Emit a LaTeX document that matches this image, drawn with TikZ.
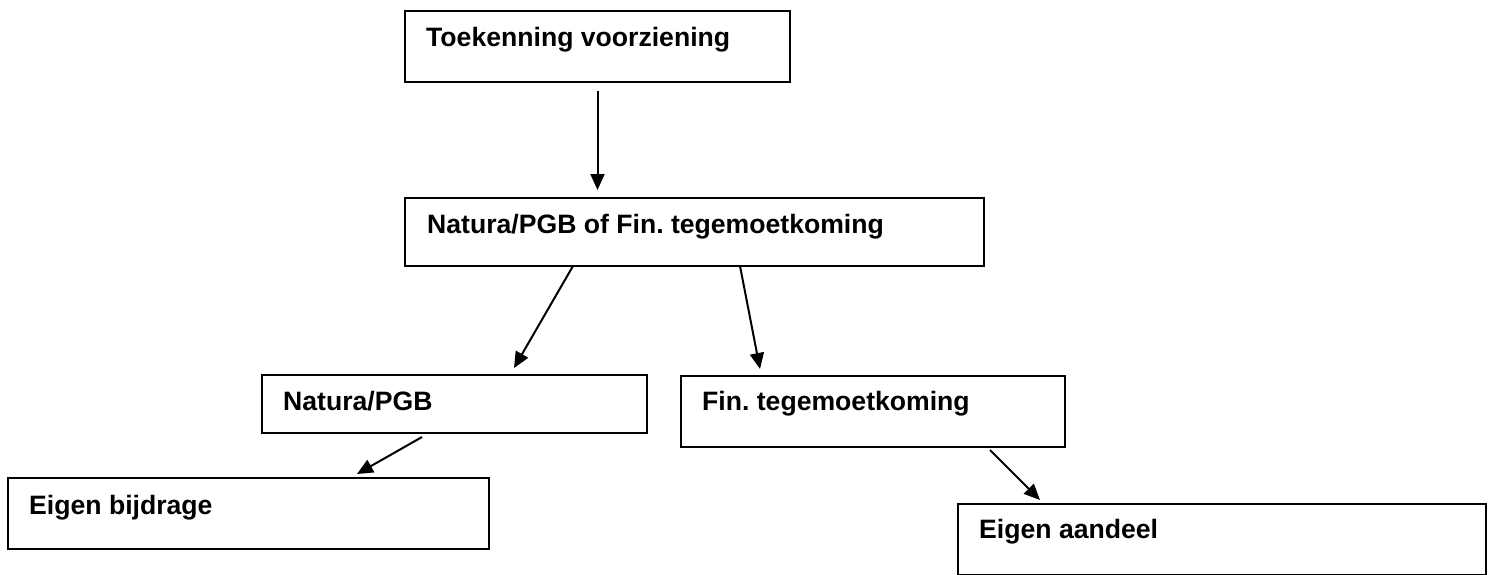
\documentclass[tikz,border=0pt]{standalone}
\usepackage{fontspec}
\setmainfont{Liberation Sans}
\usetikzlibrary{arrows.meta}
\frenchspacing
\begin{document}
\begin{tikzpicture}[x=1pt,y=-1pt,
  box/.style={draw,line width=2.4pt,anchor=north west,inner sep=0pt},
  lbl/.style={anchor=base west,inner sep=0pt,font=\fontsize{26.6}{30}\selectfont\bfseries},
  arr/.style={line width=2pt,-{Triangle[length=16pt,width=14pt]}}]
\useasboundingbox (0,0) rectangle (1495,575);
% boxes
\node[box,minimum width=385pt,minimum height=71pt] (b1) at (404,10) {};
\node[box,minimum width=579pt,minimum height=68pt] (b2) at (404,197) {};
\node[box,minimum width=385pt,minimum height=58pt] (b3) at (261,374) {};
\node[box,minimum width=384pt,minimum height=71pt] (b4) at (680,375) {};
\node[box,minimum width=481pt,minimum height=71pt] (b5) at (7,477) {};
\node[box,minimum width=528pt,minimum height=71pt] (b6) at (957,503) {};
% labels
\node[lbl] (t1) at ([shift={(22,37)}]b1.north west) {Toekenning voorziening};
\node[lbl] (t2) at ([shift={(23,36)}]b2.north west) {Natura/PGB of Fin. tegemoetkoming};
\node[lbl] (t3) at ([shift={(22,36)}]b3.north west) {Natura/PGB};
\node[lbl] (t4) at ([shift={(22,35)}]b4.north west) {Fin. tegemoetkoming};
\node[lbl] (t5) at ([shift={(22,37)}]b5.north west) {Eigen bijdrage};
\node[lbl] (t6) at ([shift={(22,35)}]b6.north west) {Eigen aandeel};
% connector ends
\coordinate (a1s) at (597.5,91);  \coordinate (a1e) at (597.5,190);
\coordinate (a2s) at (573,266);   \coordinate (a2e) at (514,368);
\coordinate (a3s) at (740,266);   \coordinate (a3e) at (760,369);
\coordinate (a4s) at (422,437);   \coordinate (a4e) at (357,474);
\coordinate (a5s) at (990,450);   \coordinate (a5e) at (1040,500);
\draw[arr] (a1s) -- (a1e);
\draw[arr] (a2s) -- (a2e);
\draw[arr] (a3s) -- (a3e);
\draw[arr] (a4s) -- (a4e);
\draw[arr] (a5s) -- (a5e);
\end{tikzpicture}
\end{document}
